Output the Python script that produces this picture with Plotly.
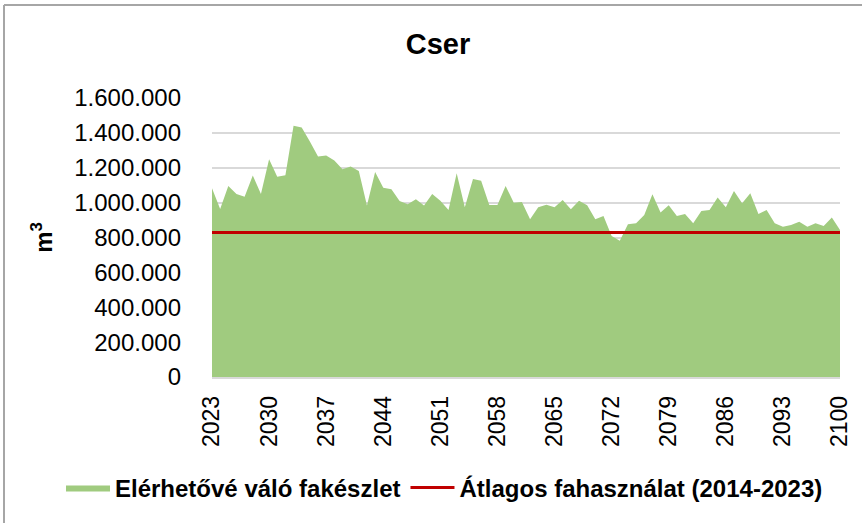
import plotly.graph_objects as go

years = list(range(2023, 2101))
available_stock = [
    1082000, 964000, 1096000, 1050000, 1034000, 1155000, 1050000, 1249000, 1149000, 1157000,
    1441000, 1431000, 1350000, 1264000, 1270000, 1241000, 1192000, 1207000, 1182000, 983000,
    1176000, 1086000, 1077000, 1010000, 991000, 1019000, 983000, 1050000, 1011000, 958000,
    1169000, 973000, 1136000, 1126000, 987000, 987000, 1096000, 1000000, 1004000, 905000,
    973000, 988000, 973000, 1015000, 962000, 1011000, 985000, 905000, 923000, 809000,
    782000, 876000, 882000, 929000, 1048000, 943000, 985000, 923000, 935000, 882000,
    952000, 958000, 1029000, 973000, 1067000, 997000, 1054000, 935000, 958000, 882000,
    862000, 872000, 891000, 862000, 882000, 866000, 914000, 843000,
]
avg_use_2014_2023 = 828000
avg_use = [avg_use_2014_2023] * len(years)
x_ticks = list(range(2023, 2101, 7))
y_ticks = list(range(0, 1600001, 200000))

FONT = "Liberation Sans, Arial, sans-serif"

fig = go.Figure()
fig.add_trace(go.Scatter(
    x=years, y=available_stock, name="<b>Elérhetővé váló fakészlet</b>",
    mode="lines", fill="tozeroy", line=dict(width=0, color="#A0CB7F"),
    fillcolor="#A0CB7F",
))
fig.add_trace(go.Scatter(
    x=years, y=avg_use, name="<b>Átlagos fahasználat (2014-2023)</b>",
    mode="lines", line=dict(width=3, color="#C00000"),
))

L, R, T, B = 212, 22, 98, 146
W, H = 862, 523
pw, ph = W - L - R, H - T - B

def px_x(p):
    return (p - L) / pw

def px_y(p):
    return (H - B - p) / ph

fig.update_layout(
    width=W, height=H,
    margin=dict(l=L, r=R, t=T, b=B, autoexpand=False),
    paper_bgcolor="white", plot_bgcolor="white",
    separators=",.",
    font=dict(family=FONT, size=23, color="#000000"),
    title=dict(text="<b>Cser</b>", x=438 / W, xref="container", xanchor="center",
               y=1 - 44 / H, yref="container", yanchor="middle",
               font=dict(size=29, family=FONT)),
    showlegend=True,
    legend=dict(orientation="h", xref="paper", x=px_x(61), xanchor="left",
                yref="paper", y=px_y(488), yanchor="middle",
                font=dict(size=24, family=FONT, color="#000000"), itemwidth=44,
                bgcolor="rgba(0,0,0,0)", traceorder="normal"),
    shapes=[
        dict(type="line", xref="paper", yref="paper", x0=px_x(4), x1=px_x(870),
             y0=px_y(5), y1=px_y(5), line=dict(color="#A6A6A6", width=2)),
        dict(type="line", xref="paper", yref="paper", x0=px_x(4), x1=px_x(4),
             y0=px_y(5), y1=px_y(530), line=dict(color="#A6A6A6", width=2)),
    ],
)
fig.update_xaxes(
    type="linear", range=[2023, 2100], tickmode="array", tickvals=x_ticks,
    ticktext=[str(v) for v in x_ticks], tickangle=-90, showgrid=False,
    showline=True, linecolor="#D9D9D9", linewidth=1.5, ticks="",
    tickfont=dict(size=23, family=FONT), ticklabelstandoff=8, zeroline=False,
    automargin=False,
)
fig.update_yaxes(
    range=[0, 1600000], tickmode="array", tickvals=y_ticks, tickformat=",d",
    showgrid=True, gridcolor="#D9D9D9", gridwidth=1.5, zeroline=False,
    showline=False, ticks="", tickfont=dict(size=24, family=FONT), ticklabelstandoff=30,
    title=dict(text="<b>m<sup>3</sup></b>", font=dict(size=24, family=FONT), standoff=14),
    automargin=False,
)

fig.write_html(
    "out.html",
    config={"displayModeBar": False},
    post_script="document.body.style.margin='0';document.body.style.padding='0';",
)
